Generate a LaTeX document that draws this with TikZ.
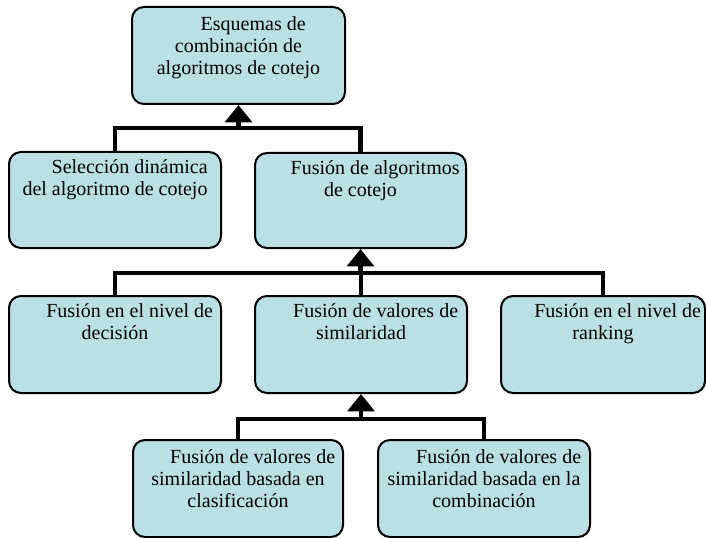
\documentclass[tikz,border=0pt]{standalone}
\usepackage{fontspec}
\setmainfont{Liberation Serif}
\usetikzlibrary{arrows.meta}
\definecolor{boxfill}{RGB}{186,224,227}
\begin{document}
\begin{tikzpicture}[x=0.75pt,y=-0.75pt,
  box/.style={draw=black, line width=1.5pt, fill=boxfill, rounded corners=9pt, inner sep=0pt},
  lbl/.style={anchor=north, inner sep=0pt, align=center, font=\fontsize{15pt}{16.5pt}\selectfont},
  conn/.style={line width=3.7pt, line join=miter},
  arr/.style={conn, -{Triangle[width=20pt,length=13pt]}}]
\useasboundingbox (0,0) rectangle (706,538);
% boxes
\node[box, minimum width=213*0.75pt, minimum height=97*0.75pt] (top) at (238.5,55.5) {};
\node[box, minimum width=212*0.75pt, minimum height=96*0.75pt] (sel) at (115,200) {};
\node[box, minimum width=211*0.75pt, minimum height=95*0.75pt] (fus) at (360.5,200.5) {};
\node[box, minimum width=212*0.75pt, minimum height=97*0.75pt] (dec) at (115,344.5) {};
\node[box, minimum width=212*0.75pt, minimum height=97*0.75pt] (sim) at (361,344.5) {};
\node[box, minimum width=204*0.75pt, minimum height=97*0.75pt] (rank) at (603,344.5) {};
\node[box, minimum width=210*0.75pt, minimum height=97*0.75pt] (cla) at (238,488.5) {};
\node[box, minimum width=212*0.75pt, minimum height=97*0.75pt] (com) at (484,488.5) {};
% texts
\node[lbl] (tTop) at ([yshift=-4pt]top.north) {\rule{0pt}{14pt}\hspace*{22pt}Esquemas de\\combinación de\\algoritmos de cotejo};
\node[lbl] (tSel) at ([yshift=-3pt]sel.north) {\rule{0pt}{14pt}\hspace*{22pt}Selección dinámica\\del algoritmo de cotejo};
\node[lbl] (tFus) at ([yshift=-3pt]fus.north) {\rule{0pt}{14pt}\hspace*{22pt}Fusión de algoritmos\\de cotejo};
\node[lbl] (tDec) at ([yshift=-3pt]dec.north) {\rule{0pt}{14pt}\hspace*{22pt}Fusión en el nivel de\\decisión};
\node[lbl] (tSim) at ([yshift=-3pt]sim.north) {\rule{0pt}{14pt}\hspace*{22pt}Fusión de valores de\\similaridad};
\node[lbl] (tRank) at ([yshift=-3pt]rank.north) {\rule{0pt}{14pt}\hspace*{22pt}Fusión en el nivel de\\ranking};
\node[lbl] (tCla) at ([yshift=-4pt]cla.north) {\rule{0pt}{14pt}\hspace*{22pt}Fusión de valores de\\similaridad basada en\\clasificación};
\node[lbl] (tCom) at ([yshift=-4pt]com.north) {\rule{0pt}{14pt}\hspace*{22pt}Fusión de valores de\\similaridad basada en la\\combinación};
% junctions
\coordinate (j1) at (top.south |- 0,128);
\coordinate (j2) at (fus.south |- 0,273);
\coordinate (j3) at (sim.south |- 0,419);
% connectors
\draw[conn] (sel.north) |- (j1);
\draw[conn] (fus.north) |- (j1);
\draw[arr] (j1) -- (top.south);
\draw[conn] (dec.north) |- (j2);
\draw[conn] (rank.north) |- (j2);
\draw[conn] (sim.north) -- (sim.north |- j2);
\draw[arr] (j2) -- (fus.south);
\draw[conn] (cla.north) |- (j3);
\draw[conn] (com.north) |- (j3);
\draw[arr] (j3) -- (sim.south);
\end{tikzpicture}
\end{document}
